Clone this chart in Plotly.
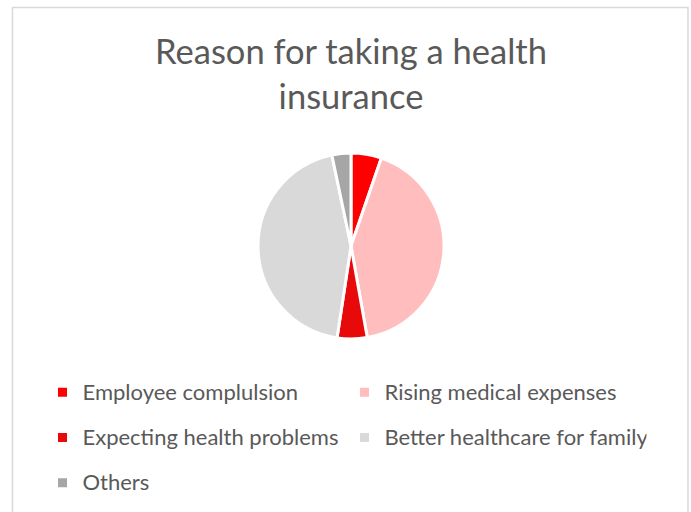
import plotly.graph_objects as go

categories = ["Employee complulsion", "Rising medical expenses", "Expecting health problems",
              "Better healthcare for family", "Others"]
values = [5.3, 41.9, 5.2, 44.3, 3.3]
colors = ["#FF0000", "#FFBDBD", "#E80A0A", "#D9D9D9", "#A6A6A6"]

W, H = 691, 512
TXT = "#595959"
FONT = "Lato"

def px_x(x):
    return x / W

def px_y(y):
    return 1 - y / H

labels = [f'<span style="font-size:22px;baseline-shift:5px">{c}</span>' for c in categories]

fig = go.Figure(go.Pie(
    labels=labels,
    values=values,
    sort=False,
    direction="clockwise",
    rotation=0,
    marker=dict(colors=colors, line=dict(color="white", width=3)),
    textinfo="none",
    hoverinfo="label+percent",
    domain=dict(x=[px_x(258), px_x(444)], y=[px_y(339), px_y(153)]),
))

fig.update_layout(
    width=W, height=H,
    margin=dict(l=0, r=0, t=0, b=0),
    paper_bgcolor="white",
    plot_bgcolor="white",
    font=dict(family=FONT, color=TXT),
    title=dict(
        text="Reason for taking a health<br>insurance",
        font=dict(family=FONT, size=34.5, color=TXT),
        x=px_x(351), xanchor="center",
        y=px_y(64), yanchor="top", yref="container",
    ),
    showlegend=True,
    legend=dict(
        orientation="h",
        x=px_x(42.5), xanchor="left",
        y=px_y(364.5), yanchor="top",
        font=dict(family=FONT, size=32.5, color=TXT),
        entrywidth=257, entrywidthmode="pixels",
        bgcolor="rgba(0,0,0,0)",
    ),
    shapes=[dict(
        type="rect", xref="paper", yref="paper",
        x0=px_x(12.5), x1=px_x(688), y0=-0.1, y1=px_y(7.5),
        line=dict(color="#D9D9D9", width=1.5),
        fillcolor="rgba(0,0,0,0)",
    )],
)

fig.write_html("out.html", config={"displayModeBar": False},
               post_script="document.body.style.margin='0';")
